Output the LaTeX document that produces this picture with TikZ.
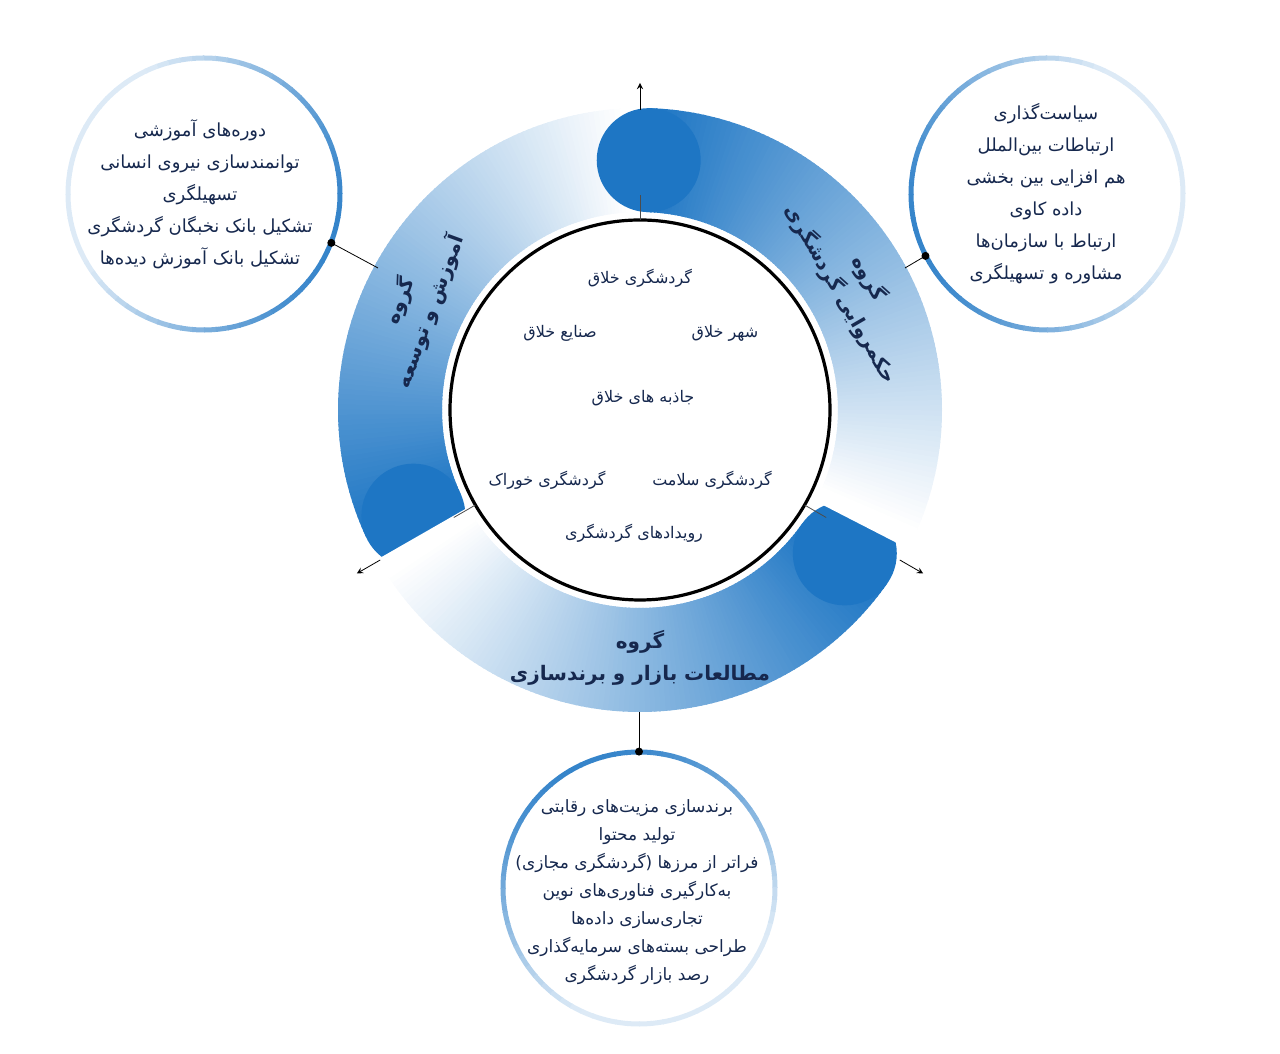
\documentclass[tikz,border=0pt]{standalone}
\usepackage{fontspec}
\setmainfont{DejaVu Sans}
\newfontfamily\arabicfont[Script=Arabic]{DejaVu Sans}
\TeXXeTstate=1
\usetikzlibrary{arrows}
\definecolor{bandblue}{RGB}{30,118,196}
\definecolor{navy}{RGB}{22,40,78}
\newcommand{\fa}[1]{{\arabicfont\beginR #1\endR}}
\tikzset{
  seg/.style={line width=52pt},
  sattext/.style={text=navy, align=center, font=\fontsize{9}{16}\selectfont},
  midtext/.style={text=navy, font=\fontsize{8}{10}\selectfont},
  bandtext/.style={text=navy, align=center, font=\bfseries\fontsize{10}{16}\selectfont},
  tick/.style={thin, black!70},
  arrow/.style={thin,->,>=stealth}
}
\begin{document}
\begin{tikzpicture}[x=0.5pt,y=0.5pt]
\useasboundingbox (0,0) rectangle (1280,1054);
\coordinate (c) at (640,644);

% bands
\foreach \s in {205,-35,88}{
  \foreach \i in {0,...,114}{
    \pgfmathsetmacro\p{max(100-\i*0.9,0)}
    \draw[seg, bandblue!\p!white] (c) ++(\s-\i:250) arc[start angle=\s-\i, end angle=\s-\i-1.4, radius=250];
  }
  \fill[bandblue] (c) ++(\s:250) circle[radius=52];
}

% centre circle
\node (core) [circle, draw=black, line width=1.6pt, fill=white, minimum size=190pt] at (c) {};
\foreach \a in {90,210,330}{
  \draw[tick] (c) ++(\a:190) -- ++(\a:25);
  \draw[arrow] (c) ++(\a:300) -- ++(\a:27);
}

\node[midtext] (m1) at (640,776) {\fa{گردشگری خلاق}};
\node[midtext] (m2) at (725,721) {\fa{شهر خلاق}};
\node[midtext] (m3) at (560,721) {\fa{صنایع خلاق}};
\node[midtext] (m4) at (643,656) {\fa{جاذبه های خلاق}};
\node[midtext] (m5) at (712,574) {\fa{گردشگری سلامت}};
\node[midtext] (m6) at (547,574) {\fa{گردشگری خوراک}};
\node[midtext] (m7) at (634,521) {\fa{رویدادهای گردشگری}};

% band titles
\node[bandtext, rotate=-60] (gov) at (855,768) {\fa{گروه}\\\fa{حکمروایی گردشگری}};
\node[bandtext, rotate=70] (edu) at (415,748) {\fa{گروه}\\\fa{آموزش و توسعه}};
\node[bandtext] (mkt) at (640,396) {\fa{گروه}\\\fa{مطالعات بازار و برندسازی}};

% satellites
\foreach \cx/\cy/\d in {204/860/-20, 1047/860/195, 639/166/110}{
  \foreach \j in {0,...,71}{
    \pgfmathsetmacro\q{max(15,90*(1+cos(\j*5-\d))/2)}
    \draw[line width=2.5pt, bandblue!\q!white] (\cx,\cy) ++(\j*5:136) arc[start angle=\j*5, end angle=\j*5+5.5, radius=136];
  }
}
\node (s1) [circle, minimum size=136pt] at (204,860) {};
\node (s2) [circle, minimum size=136pt] at (1047,860) {};
\node (s3) [circle, minimum size=136pt] at (639,166) {};

\node[sattext] (t1) at (200,860) {\fa{دوره‌های آموزشی}\\\fa{توانمندسازی نیروی انسانی}\\\fa{تسهیلگری}\\\fa{تشکیل بانک نخبگان گردشگری}\\\fa{تشکیل بانک آموزش دیده‌ها}};
\node[sattext] (t2) at (1046,860) {\fa{سیاست‌گذاری}\\\fa{ارتباطات بین‌الملل}\\\fa{هم افزایی بین بخشی}\\\fa{داده کاوی}\\\fa{ارتباط با سازمان‌ها}\\\fa{مشاوره و تسهیلگری}};
\node[sattext, font=\fontsize{8.5}{14}\selectfont] (t3) at (637,162) {\fa{برندسازی مزیت‌های رقابتی}\\\fa{تولید محتوا}\\\fa{فراتر از مرزها (گردشگری مجازی)}\\\fa{به‌کارگیری فناوری‌های نوین}\\\fa{تجاری‌سازی داده‌ها}\\\fa{طراحی بسته‌های سرمایه‌گذاری}\\\fa{رصد بازار گردشگری}};

% connectors
\coordinate (e1) at (378,786);
\coordinate (e2) at (905,786);
\coordinate (e3) at (639,342);
\draw[thin] (s1.-21) -- (e1);
\draw[thin] (s2.207) -- (e2);
\draw[thin] (s3.north) -- (e3);
\fill (s1.-21) circle[radius=4] (s2.207) circle[radius=4] (s3.north) circle[radius=4];
\end{tikzpicture}
\end{document}
